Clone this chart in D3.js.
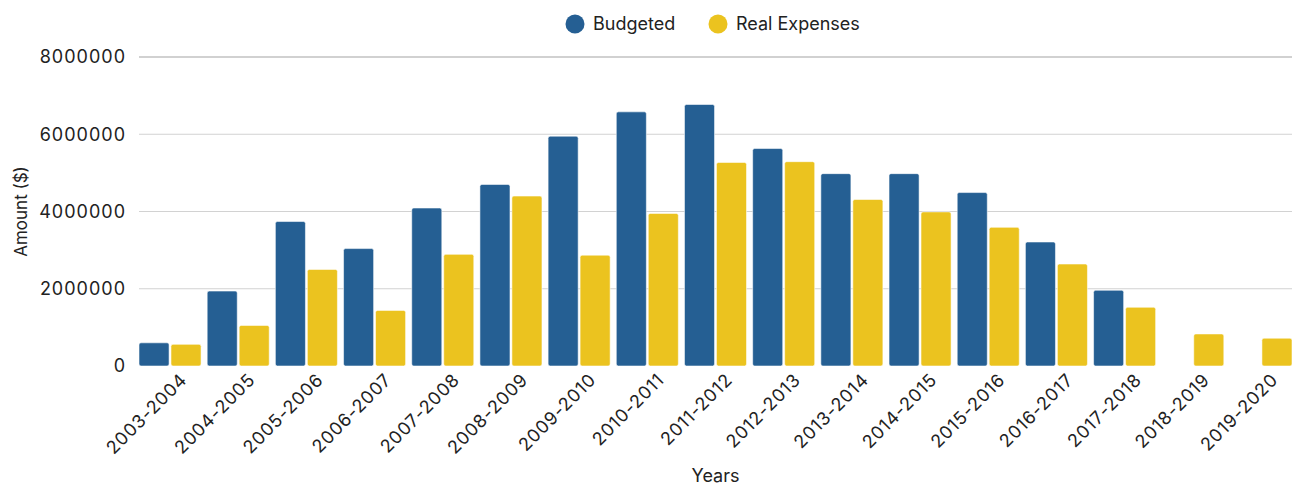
<!DOCTYPE html>
<html>
<head>
<meta charset="utf-8">
<script src="https://cdn.jsdelivr.net/npm/d3@7"></script>
<style>
  html, body { margin: 0; padding: 0; background: #fff; }
  svg { display: block; font-family: "Inter", "Open Sans", sans-serif; }
</style>
</head>
<body>
<svg id="chart" width="1292" height="485"></svg>
<script>
// Fiscal years on the x axis
const years = [
  "2003-2004", "2004-2005", "2005-2006", "2006-2007", "2007-2008", "2008-2009",
  "2009-2010", "2010-2011", "2011-2012", "2012-2013", "2013-2014", "2014-2015",
  "2015-2016", "2016-2017", "2017-2018", "2018-2019", "2019-2020"
];

// Budgeted amounts ($); null where no budget was recorded
const budgeted = [
  600000, 1940000, 3740000, 3040000, 4090000, 4700000,
  5950000, 6580000, 6770000, 5630000, 4980000, 4980000,
  4490000, 3210000, 1960000, null, null
];

// Real expenses ($)
const realExpenses = [
  560000, 1050000, 2500000, 1440000, 2890000, 4400000,
  2870000, 3950000, 5270000, 5290000, 4310000, 3990000,
  3590000, 2640000, 1520000, 830000, 720000
];

const seriesNames = ["Budgeted", "Real Expenses"];
const seriesColors = ["#255f93", "#ebc31f"];
const yTicks = [0, 2000000, 4000000, 6000000, 8000000];

const svg = d3.select("#chart");
const margin = { left: 139, right: 0, top: 57, bottom: 119 };
const W = 1292, H = 485;

const x = d3.scaleBand()
  .domain(years)
  .range([margin.left, W - margin.right])
  .paddingInner(0.09)
  .paddingOuter(0.0);

const xSub = d3.scaleBand()
  .domain(seriesNames)
  .range([0, x.bandwidth()])
  .paddingInner(0.06);

const y = d3.scaleLinear()
  .domain([0, 8000000])
  .range([H - margin.bottom, margin.top]);

// Horizontal grid lines
svg.append("g")
  .selectAll("line")
  .data(yTicks.filter(d => d > 0))
  .join("line")
  .attr("x1", margin.left)
  .attr("x2", W)
  .attr("y1", d => y(d))
  .attr("y2", d => y(d))
  .attr("stroke", d => d === 8000000 ? "#a3a3a3" : "#d2d2d2")
  .attr("stroke-width", 1);

// Y axis labels
const yAxis = d3.axisLeft(y).tickValues(yTicks).tickSize(0).tickPadding(13)
  .tickFormat(d3.format("d"));
svg.append("g")
  .attr("transform", `translate(${margin.left},0)`)
  .call(yAxis)
  .call(g => g.select(".domain").remove())
  .call(g => g.selectAll("text")
    .attr("font-size", 18)
    .attr("letter-spacing", "1px")
    .attr("fill", "#222")
    .attr("font-family", "Inter, sans-serif"));

// Bars
const rows = years.map((yr, i) => ({ year: yr, values: [budgeted[i], realExpenses[i]] }));
const groups = svg.append("g")
  .selectAll("g")
  .data(rows)
  .join("g")
  .attr("transform", d => `translate(${x(d.year)},0)`);

groups.selectAll("rect")
  .data(d => d.values.map((v, j) => ({ key: seriesNames[j], value: v, color: seriesColors[j] }))
    .filter(d => d.value != null))
  .join("rect")
  .attr("x", d => xSub(d.key))
  .attr("width", xSub.bandwidth())
  .attr("y", d => y(d.value))
  .attr("height", d => y(0) - y(d.value))
  .attr("rx", 2)
  .attr("fill", d => d.color)
  .attr("stroke", "rgba(255,255,255,0.55)")
  .attr("stroke-width", 1);

// X axis labels
const xAxis = d3.axisBottom(x).tickSize(0).tickPadding(0);
svg.append("g")
  .attr("transform", `translate(0,${H - margin.bottom})`)
  .call(xAxis)
  .call(g => g.select(".domain").remove())
  .call(g => g.selectAll("text")
    .attr("font-size", 18)
    .attr("letter-spacing", "0.8px")
    .attr("fill", "#222")
    .attr("font-family", "Inter, sans-serif")
    .attr("text-anchor", "end")
    .attr("dy", null)
    .attr("transform", "translate(18,15) rotate(-45)"));

// Axis titles
svg.append("text")
  .attr("x", (margin.left + W) / 2)
  .attr("y", 482)
  .attr("text-anchor", "middle")
  .attr("font-size", 18)
  .attr("fill", "#222")
  .text("Years");

svg.append("text")
  .attr("transform", `translate(27,${(y(0) + y(8000000)) / 2}) rotate(-90)`)
  .attr("text-anchor", "middle")
  .attr("font-size", 17)
  .attr("fill", "#222")
  .text("Amount ($)");

// Legend
const legendItems = [
  { name: "Budgeted", color: seriesColors[0], cx: 575 },
  { name: "Real Expenses", color: seriesColors[1], cx: 718 }
];
const legend = svg.append("g");
legend.selectAll("circle")
  .data(legendItems)
  .join("circle")
  .attr("cx", d => d.cx)
  .attr("cy", 24)
  .attr("r", 9.5)
  .attr("fill", d => d.color);
legend.selectAll("text")
  .data(legendItems)
  .join("text")
  .attr("x", d => d.cx + 18)
  .attr("y", 30)
  .attr("font-size", 18)
  .attr("fill", "#222")
  .text(d => d.name);
</script>
</body>
</html>
